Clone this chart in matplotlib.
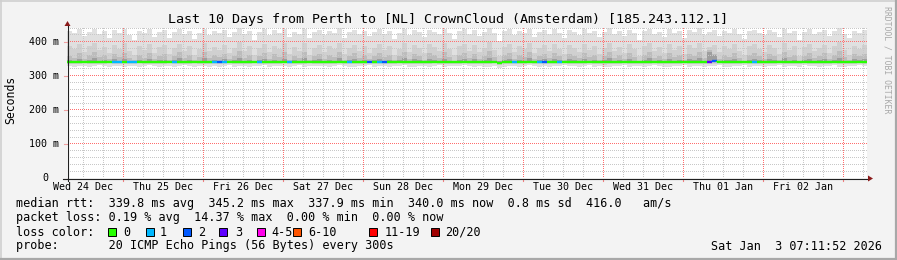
import numpy as np
import matplotlib
matplotlib.use("Agg")
import matplotlib.pyplot as plt
from matplotlib.lines import Line2D
from matplotlib.patches import Rectangle, Polygon
from matplotlib.transforms import blended_transform_factory

W, H = 897, 260
MONO = "DejaVu Sans Mono"

title = "Last 10 Days from Perth to [NL] CrownCloud (Amsterdam) [185.243.112.1]"
day_labels = ["Wed 24 Dec", "Thu 25 Dec", "Fri 26 Dec", "Sat 27 Dec", "Sun 28 Dec",
              "Mon 29 Dec", "Tue 30 Dec", "Wed 31 Dec", "Thu 01 Jan", "Fri 02 Jan"]
y_ticks = [0, 100, 200, 300, 400]
y_tick_labels = ["0", "100 m", "200 m", "300 m", "400 m"]
loss_labels = ["0", "1", "2", "3", "4-5", "6-10", "11-19", "20/20"]
loss_colors = ["#26ff00", "#00b8ff", "#0059ff", "#5e00ff", "#ff00ea", "#ff5500", "#ff0000", "#a00000"]
legend_median = "median rtt:  339.8 ms avg  345.2 ms max  337.9 ms min  340.0 ms now  0.8 ms sd  416.0   am/s"
legend_loss = "packet loss: 0.19 % avg  14.37 % max  0.00 % min  0.00 % now"
legend_probe = "probe:       20 ICMP Echo Pings (56 Bytes) every 300s"
timestamp = "Sat Jan  3 07:11:52 2026"

# hours span of the graph and offset of first midnight (Dec 24 07:11:52 -> Dec 25 00:00)
span_hours = 240.0
first_midnight = 16.8022

# smoke: upper envelopes (ms)
top = [432, 425, 436, 418, 428, 438, 422, 430, 412, 435,
       426, 438, 420, 405, 430, 424, 436, 415, 428, 433,
       410, 427, 437, 421, 432, 408, 426, 438, 419, 430,
       424, 435, 413, 429, 439, 422, 431, 404, 427, 436,
       420, 433, 426, 437, 415, 429, 423, 438, 410, 428,
       434, 419, 430, 425, 439, 412, 427, 435, 421, 432,
       416, 429, 437, 423, 431, 407, 426, 438, 420, 433,
       427, 414, 435, 429, 421, 437, 425, 409, 431, 436,
       422, 433, 418, 428, 439, 424, 402, 430, 436, 419,
       431, 425, 438, 415, 429, 434, 421, 437, 426, 411,
       433, 428, 420, 436, 424, 431, 413, 428, 439, 422,
       430, 417, 435, 426, 404, 432, 438, 423, 429, 415,
       436, 424, 430, 412, 433, 427, 439, 420, 428, 434,
       418, 431, 425, 437, 422, 408, 430, 435, 426, 419,
       433, 427, 414, 438, 424, 431, 406, 429, 436, 421,
       428, 435, 417, 430, 439, 423, 410, 432, 426, 434]
hi2 = [386, 377, 393, 371, 388, 396, 375, 384, 366, 391,
       379, 395, 372, 361, 387, 376, 392, 368, 383, 389,
       364, 381, 394, 374, 386, 362, 378, 397, 372, 385,
       376, 390, 366, 382, 398, 373, 387, 360, 380, 392,
       371, 388, 377, 395, 365, 383, 374, 396, 362, 381,
       390, 370, 386, 378, 397, 364, 380, 391, 373, 388,
       367, 382, 394, 375, 387, 361, 379, 396, 371, 389,
       380, 366, 392, 383, 373, 395, 377, 360, 386, 393,
       374, 389, 369, 381, 398, 376, 358, 385, 392, 370,
       387, 378, 396, 366, 382, 391, 372, 394, 379, 363,
       389, 380, 371, 393, 375, 386, 365, 381, 397, 373,
       385, 368, 392, 377, 359, 388, 395, 374, 383, 366,
       393, 376, 386, 364, 390, 380, 397, 372, 384, 391,
       369, 387, 378, 394, 374, 360, 386, 392, 379, 370,
       389, 381, 365, 396, 375, 387, 358, 383, 393, 372,
       382, 391, 368, 386, 398, 376, 362, 388, 379, 390]
hi3 = [358, 352, 366, 349, 361, 370, 354, 360, 348, 364,
       355, 368, 351, 346, 362, 353, 367, 350, 359, 363,
       347, 357, 369, 352, 361, 345, 356, 371, 351, 360,
       354, 365, 348, 358, 372, 352, 362, 344, 357, 366,
       350, 363, 355, 369, 347, 359, 353, 370, 346, 357,
       364, 349, 361, 356, 371, 346, 358, 366, 352, 362,
       348, 359, 368, 354, 362, 345, 357, 370, 350, 363,
       357, 347, 366, 360, 352, 369, 355, 344, 361, 367,
       353, 364, 349, 358, 372, 355, 343, 360, 366, 350,
       362, 356, 370, 348, 359, 365, 351, 368, 357, 346,
       363, 357, 351, 367, 354, 361, 347, 358, 371, 352,
       360, 349, 366, 355, 344, 362, 369, 353, 359, 348,
       367, 354, 361, 346, 364, 357, 371, 351, 375, 365,
       349, 362, 356, 368, 353, 344, 361, 366, 357, 350,
       363, 358, 347, 370, 354, 362, 343, 359, 367, 351,
       358, 366, 349, 361, 372, 355, 345, 363, 357, 364]
hi4 = [345, 343, 349, 342, 346, 351, 344, 345, 342, 348,
       344, 350, 343, 342, 347, 344, 349, 342, 345, 347,
       342, 345, 351, 343, 346, 342, 344, 352, 343, 346,
       344, 349, 342, 345, 353, 343, 347, 342, 345, 349,
       343, 347, 344, 350, 342, 345, 343, 351, 342, 345,
       348, 342, 346, 344, 352, 342, 345, 349, 343, 347,
       342, 345, 350, 344, 347, 342, 345, 351, 343, 348,
       345, 342, 349, 346, 343, 350, 344, 342, 346, 349,
       343, 348, 342, 345, 352, 344, 342, 346, 349, 343,
       347, 344, 351, 342, 345, 348, 343, 350, 345, 342,
       348, 345, 343, 350, 344, 347, 342, 345, 352, 343,
       346, 342, 349, 344, 342, 347, 351, 343, 346, 342,
       350, 344, 347, 342, 348, 345, 352, 343, 370, 362,
       342, 347, 345, 350, 343, 342, 346, 349, 345, 342,
       348, 345, 342, 351, 344, 347, 342, 345, 350, 343,
       345, 349, 342, 347, 353, 344, 342, 348, 345, 349]
median = [340, 340, 341, 340, 339, 340, 340, 341, 340, 340,
          341, 340, 340, 339, 340, 340, 341, 340, 340, 339,
          340, 340, 341, 340, 340, 339, 340, 340, 341, 340,
          339, 340, 340, 340, 341, 340, 339, 340, 340, 340,
          340, 341, 340, 340, 339, 340, 340, 341, 340, 340,
          340, 339, 340, 341, 340, 340, 340, 339, 340, 341,
          340, 340, 339, 340, 340, 341, 340, 340, 339, 340,
          340, 341, 340, 339, 340, 340, 340, 341, 340, 339,
          340, 339, 340, 340, 341, 340, 338, 339, 340, 340,
          339, 340, 341, 340, 339, 340, 340, 339, 340, 340,
          340, 340, 339, 340, 341, 340, 339, 339, 340, 340,
          340, 341, 340, 339, 340, 340, 340, 339, 340, 341,
          340, 339, 340, 340, 341, 340, 340, 339, 341, 342,
          340, 340, 339, 340, 340, 341, 340, 339, 340, 340,
          339, 340, 340, 341, 340, 339, 340, 340, 339, 340,
          340, 341, 340, 339, 340, 340, 341, 340, 340, 340]
low_in = [334, 335, 333, 336, 334, 335, 333, 334, 336, 335,
          334, 333, 335, 334, 336, 333, 334, 335, 333, 334,
          336, 334, 333, 335, 334, 336, 333, 335, 334, 333,
          335, 334, 336, 333, 334, 335, 333, 336, 334, 335,
          333, 334, 335, 336, 334, 333, 335, 334, 336, 333,
          334, 335, 333, 334, 336, 335, 334, 333, 335, 334,
          336, 333, 334, 335, 333, 334, 336, 335, 334, 333,
          335, 334, 333, 336, 334, 335, 333, 334, 335, 336,
          334, 333, 335, 334, 333, 336, 332, 333, 334, 335,
          333, 334, 336, 335, 333, 334, 335, 333, 334, 336,
          335, 334, 333, 335, 336, 334, 333, 332, 334, 335,
          334, 336, 333, 334, 335, 333, 334, 336, 335, 334,
          333, 335, 334, 336, 333, 334, 335, 333, 334, 335,
          336, 334, 333, 335, 334, 336, 333, 334, 335, 333,
          334, 335, 336, 333, 334, 335, 333, 336, 334, 335,
          333, 334, 335, 336, 334, 333, 335, 334, 336, 334]
low = [329, 327, 330, 328, 326, 329, 331, 328, 327, 330,
       328, 326, 329, 330, 327, 328, 331, 329, 326, 328,
       330, 327, 328, 331, 329, 326, 328, 330, 327, 329,
       326, 329, 331, 327, 328, 330, 326, 329, 328, 331,
       327, 328, 330, 329, 326, 328, 331, 327, 329, 330,
       328, 330, 326, 328, 331, 329, 327, 326, 330, 328,
       331, 327, 329, 330, 326, 328, 329, 331, 327, 326,
       329, 328, 326, 330, 331, 327, 328, 329, 330, 331,
       328, 326, 330, 327, 325, 329, 324, 326, 328, 330,
       327, 329, 331, 328, 326, 330, 327, 328, 329, 331,
       330, 328, 327, 329, 331, 326, 328, 325, 327, 330,
       328, 331, 326, 329, 330, 327, 328, 331, 329, 326,
       327, 330, 328, 331, 326, 329, 330, 327, 328, 329,
       331, 327, 326, 330, 329, 331, 326, 328, 330, 327,
       329, 330, 331, 326, 328, 330, 327, 331, 329, 328,
       326, 328, 330, 331, 327, 326, 330, 329, 331, 328]
# loss category per step (index into loss_colors)
loss = [0, 0, 0, 0, 0, 0, 0, 0, 0, 1, 1, 0, 1, 1, 0, 0, 0, 0, 0, 0,
        0, 1, 0, 0, 0, 0, 0, 0, 0, 1, 2, 1, 0, 0, 0, 0, 0, 0, 1, 0,
        0, 0, 0, 0, 1, 0, 0, 0, 0, 0, 0, 0, 0, 0, 0, 0, 1, 0, 0, 0,
        2, 0, 1, 2, 0, 0, 0, 0, 0, 0, 0, 0, 0, 0, 0, 0, 0, 0, 0, 0,
        0, 0, 0, 0, 0, 0, 0, 0, 0, 1, 0, 0, 0, 0, 1, 2, 0, 0, 1, 0,
        0, 0, 0, 0, 0, 0, 0, 0, 0, 0, 0, 0, 0, 0, 0, 0, 0, 0, 0, 0,
        0, 0, 0, 0, 0, 0, 0, 0, 3, 2, 0, 0, 0, 0, 0, 0, 0, 1, 0, 0,
        0, 0, 0, 0, 0, 0, 0, 0, 0, 0, 0, 0, 0, 0, 0, 0, 0, 0, 0, 0]

# ---------------------------------------------------------------- figure
fig = plt.figure(figsize=(W / 100, H / 100), dpi=100)
fig.patch.set_facecolor("#f3f3f3")


def fx(px):
    return px / W


def fy(py):
    return 1 - py / H


def fline(xs, ys, **kw):
    fig.add_artist(Line2D([fx(x) for x in xs], [fy(y) for y in ys],
                          transform=fig.transFigure, **kw))


def ftext(x, y, s, **kw):
    kw.setdefault("family", MONO)
    kw.setdefault("color", "black")
    fig.text(fx(x), fy(y), s, **kw)


PL, PR, PT, PB = 67, 867, 28, 178
AW, AH = PR - PL, PB - PT
YMAX = 440
rect = [fx(PL), fy(PB), AW / W, AH / H]

ax = fig.add_axes(rect, zorder=0)
ax.set_facecolor("white")
ax2 = fig.add_axes(rect, zorder=2)
ax2.patch.set_alpha(0)
for a in (ax, ax2):
    for s in a.spines.values():
        s.set_visible(False)
    a.set_xticks([])
    a.set_yticks([])
    a.set_xlim(0, span_hours)
    a.set_ylim(0, YMAX)

n = len(top)
edges = np.linspace(0, span_hours, n + 1)
top_a, hi2_a, hi3_a, hi4_a = map(np.asarray, (top, hi2, hi3, hi4))
med_a, lowin_a, low_a = map(np.asarray, (median, low_in, low))

ax.stairs(top_a, edges, baseline=low_a, fill=True, color="#e0e0e0", lw=0, zorder=2)
ax.stairs(hi2_a, edges, baseline=lowin_a, fill=True, color="#d0d0d0", lw=0, zorder=2.1)
ax.stairs(hi3_a, edges, baseline=med_a, fill=True, color="#bcbcbc", lw=0, zorder=2.2)
ax.stairs(hi4_a, edges, baseline=med_a, fill=True, color="#9e9e9e", lw=0, zorder=2.3)

# grid: pixel-exact dotted overlay in figure pixels (1 px on / 1 px off)
grid = np.zeros((H, W, 4), dtype=np.uint8)
grid[..., :3] = 255
C_MIN = np.array([200, 200, 200, 255], dtype=np.uint8)
C_MAJ = np.array([255, 110, 110, 255], dtype=np.uint8)
major_x = [first_midnight + 24 * i for i in range(10)]
minor_x = [first_midnight - 12 + 6 * j for j in range(41)]
minor_x = [v for v in minor_x if 0 < v < span_hours and all(abs(v - m) > 1 for m in major_x)]
for yv in range(20, YMAX + 1, 20):
    r = int(PT + (YMAX - yv) / YMAX * AH)
    grid[r, PL + 1:PR:2] = C_MAJ if yv % 100 == 0 else C_MIN
for xv, col in [(v, C_MIN) for v in minor_x] + [(v, C_MAJ) for v in major_x]:
    c = int(PL + xv / span_hours * AW)
    if PL < c < PR:
        grid[PT:PB:2, c] = col
gim = fig.figimage(grid, xo=0, yo=0, origin="upper", zorder=1)
gim.set_interpolation("nearest")

# median line coloured by loss
for k in range(n):
    c = loss_colors[loss[k]]
    ax2.hlines(median[k], edges[k], edges[k + 1], color=c, lw=1.7, zorder=4, capstyle="butt")
    if k > 0 and median[k] != median[k - 1]:
        ax2.vlines(edges[k], median[k - 1], median[k], color=c, lw=1.7, zorder=4)

# axis lines and arrows
fline([PL - 4, PR + 2], [PB + 0.5, PB + 0.5], color="#202020", lw=0.8, zorder=3)
fline([PL + 0.5, PL + 0.5], [PB + 3, PT - 3], color="#202020", lw=0.8, zorder=3)
fig.add_artist(Polygon([(fx(PR + 1), fy(PB - 2.5)), (fx(PR + 1), fy(PB + 3.5)), (fx(PR + 6), fy(PB + 0.5))],
                       closed=True, transform=fig.transFigure, color="#8b1a1a", lw=0, zorder=3))
fig.add_artist(Polygon([(fx(PL - 2.5), fy(PT - 2)), (fx(PL + 3.5), fy(PT - 2)), (fx(PL + 0.5), fy(PT - 7))],
                       closed=True, transform=fig.transFigure, color="#8b1a1a", lw=0, zorder=3))

# x ticks below axis
trans = blended_transform_factory(ax2.transData, fig.transFigure)
for xv in major_x:
    ax2.add_line(Line2D([xv, xv], [fy(PB + 1), fy(PB + 3)], transform=trans, color="#f08080",
                        lw=0.8, clip_on=False))

# labels
for i, lab in enumerate(day_labels):
    xh = first_midnight - 12 + 24 * i
    ax2.text(xh, fy(187), lab, transform=trans, ha="center", va="center",
             family=MONO, fontsize=7.2, color="black", clip_on=False)
for yv, lab in zip(y_ticks, y_tick_labels):
    ypx = PB - yv * AH / YMAX
    if lab == "0":
        ftext(42, ypx, lab, ha="left", va="center", fontsize=7.2)
    else:
        ftext(59, ypx, lab, ha="right", va="center", fontsize=7.2)
    fline([PL - 3, PL], [ypx + 0.5, ypx + 0.5], color="#f0a0a0", lw=0.8)

ftext(448, 19, title, ha="center", va="center", fontsize=9.6)
ftext(11, 100, "Seconds", ha="center", va="center", rotation=90, fontsize=8.3)
ftext(887, 60, "RRDTOOL / TOBI OETIKER", ha="center", va="center", rotation=270,
      fontsize=5.9, color="#a8a8a8")

ftext(16, 204, legend_median, ha="left", va="center", fontsize=8.5)
ftext(16, 218, legend_loss, ha="left", va="center", fontsize=8.5)
ftext(16, 232, "loss color:", ha="left", va="center", fontsize=8.5)
box_x = [108, 146, 183, 219, 257, 293, 369, 431]
text_x = [123, 160, 198, 235, 271, 308, 385, 445]
for bx, tx, lab, col in zip(box_x, text_x, loss_labels, loss_colors):
    fig.add_artist(Rectangle((fx(bx), fy(236)), 8 / W, 8 / H, transform=fig.transFigure,
                             facecolor=col, edgecolor="black", lw=0.7))
    ftext(tx, 232, lab, ha="left", va="center", fontsize=8.5)
ftext(16, 246, legend_probe, ha="left", va="center", fontsize=8.5)
ftext(882, 246, timestamp, ha="right", va="center", fontsize=8.5)

# frame shading
fline([0, W], [0.5, 0.5], color="#d0d0d0", lw=1.2)
fline([0.5, 0.5], [0, H], color="#d0d0d0", lw=1.2)
fline([0, W], [H - 1, H - 1], color="#a8a8a8", lw=1.6)
fline([W - 1, W - 1], [0, H], color="#a8a8a8", lw=1.6)

fig.savefig("out.png", dpi=100, facecolor=fig.get_facecolor())
